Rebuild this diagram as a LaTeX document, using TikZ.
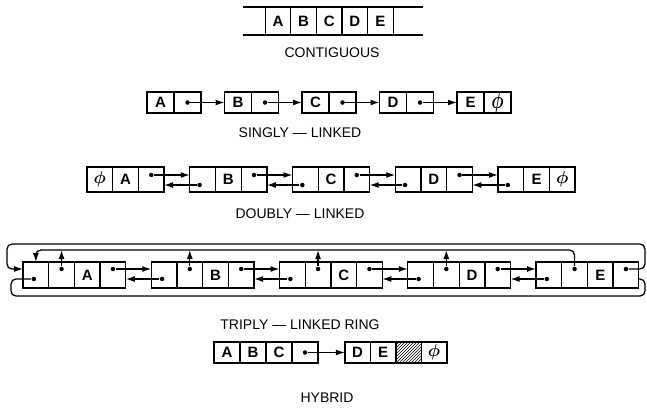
\documentclass[tikz,border=0pt]{standalone}
\usepackage{fontspec}
\setmainfont{Liberation Sans}
\usetikzlibrary{arrows.meta,patterns}

\begin{document}
\begin{tikzpicture}[x=1pt,y=-1pt,line width=1.3pt,
    cell/.style={draw,inner sep=0pt,outer sep=0pt,font=\bfseries\fontsize{15}{17}\selectfont},
    ccell/.style={cell,minimum width=25.6pt,minimum height=28pt},
    scell/.style={cell,minimum width=27pt,minimum height=21pt},
    dcell/.style={cell,minimum width=25.7pt,minimum height=25pt},
    tcell/.style={cell,minimum width=25.7pt,minimum height=26pt},
    hcell/.style={cell,minimum width=25.8pt,minimum height=21pt},
    dot/.style={circle,fill,inner sep=0pt,minimum size=4.5pt},
    arr/.style={-{Latex[length=9pt,width=6pt]}},
    lbl/.style={font=\fontsize{14}{16}\selectfont},
    nul/.style={font=\fontsize{17}{18}\selectfont\boldmath}]
    \useasboundingbox (0,0) rectangle (647,408);

    % contiguous
    \foreach \t [count=\i] in {A,B,C,D,E}
        \node (c\i) at ({252.4+25.6*\i},21) [ccell] {\t};
    \draw (c1.north west) -- ++(-22,0) (c1.south west) -- ++(-22,0);
    \draw (c5.north east) -- ++(30,0) (c5.south east) -- ++(30,0);
    \node (clbl) at (332,53) [lbl] {CONTIGUOUS};

    % singly linked
    \foreach \t [count=\i] in {A,B,C,D,E} {
        \node (sl\i) at ({83+77.5*\i},102.5) [scell] {\t};
        \node (sr\i) at ({110+77.5*\i},102.5) [scell] {};
    }
    \node at (sr5) [nul] {\scalebox{1}[1.4]{$\phi$}};
    \foreach \i [count=\j from 2] in {1,...,4} {
        \node (sd\i) at (sr\i) [dot] {};
        \draw[arr] (sd\i) -- (sl\j);
    }
    \node (slbl) at (300,133) [lbl] {SINGLY — LINKED};

    % doubly linked
    \foreach \t [count=\i] in {A,B,C,D,E} {
        \node (da\i) at ({-2.9+102.75*\i},179.5) [dcell] {};
        \node (db\i) at ({22.8+102.75*\i},179.5) [dcell] {\t};
        \node (dc\i) at ({48.5+102.75*\i},179.5) [dcell] {};
    }
    \node at (da1) [nul] {$\phi$};
    \node at (dc5) [nul] {$\phi$};
    \foreach \i [count=\j from 2] in {1,...,4} {
        \node (df\i) at ([yshift=4.5pt]dc\i.center) [dot] {};
        \node (dk\j) at ([xshift=-3pt,yshift=-5.5pt]da\j.center) [dot] {};
        \draw[arr] (df\i) -- (da\j.west |- df\i);
        \draw[arr] (dk\j) -- (dc\i.east |- dk\j);
    }
    \node (dlbl) at (300,214) [lbl] {DOUBLY — LINKED};

    % triply linked ring
    \foreach \t [count=\i] in {A,B,C,D,E} {
        \node (ta\i) at ({-92.4+128.25*\i},275) [tcell] {};
        \node (tb\i) at ({-66.7+128.25*\i},275) [tcell] {};
        \node (tc\i) at ({-41+128.25*\i},275) [tcell] {\t};
        \node (td\i) at ({-15.3+128.25*\i},275) [tcell] {};
        \node (tk\i) at ([xshift=-2pt,yshift=-4pt]ta\i.center) [dot] {};
        \node (tu\i) at ([yshift=6pt]tb\i.center) [dot] {};
        \node (tf\i) at ([yshift=6pt]td\i.center) [dot] {};
    }
    \coordinate (inner) at (0,250);
    \coordinate (otl) at (7,244);
    \coordinate (otr) at (645,244);
    \coordinate (obl) at (11,296);
    \coordinate (obr) at (645,296);
    \foreach \i [count=\j from 2] in {1,...,4} {
        \draw[arr] (tu\i) -- (tu\i |- inner);
        \draw[arr] (tf\i) -- (ta\j.west |- tf\i);
        \draw[arr] (tk\j) -- (td\i.east |- tk\j);
    }
    \draw[arr,rounded corners=5pt] (tu5) -- (tu5 |- inner) -- (ta1.north |- inner) -- (ta1.north);
    \draw[arr,rounded corners=5pt] (tf5) -- (tf5 -| otr) -- (otr) -- (otl) -- (otl |- tf1) -- (ta1.west |- tf1);
    \draw[rounded corners=5pt] (tk1) -- (tk1 -| obl) -- (obl) -- (obr) -- (obr |- tk5) -- (td5.east |- tk5);
    \node (tlbl) at (300,325) [lbl] {TRIPLY — LINKED RING};

    % hybrid
    \foreach \t [count=\i] in {A,B,C,{}}
        \node (ha\i) at ({201+26*\i},352.5) [hcell] {\t};
    \foreach \t [count=\i] in {D,E,{},{}}
        \node (hb\i) at ({332.1+25.5*\i},352.5) [hcell,minimum width=25.5pt] {\t};
    \node at (hb4) [nul] {$\phi$};
    \fill[pattern=north east lines] (hb3.south west) rectangle (hb3.north east);
    \node (hd) at (ha4) [dot] {};
    \draw[arr] (hd) -- (hb1);
    \node (hlbl) at (327,398) [lbl] {HYBRID};
\end{tikzpicture}
\end{document}
